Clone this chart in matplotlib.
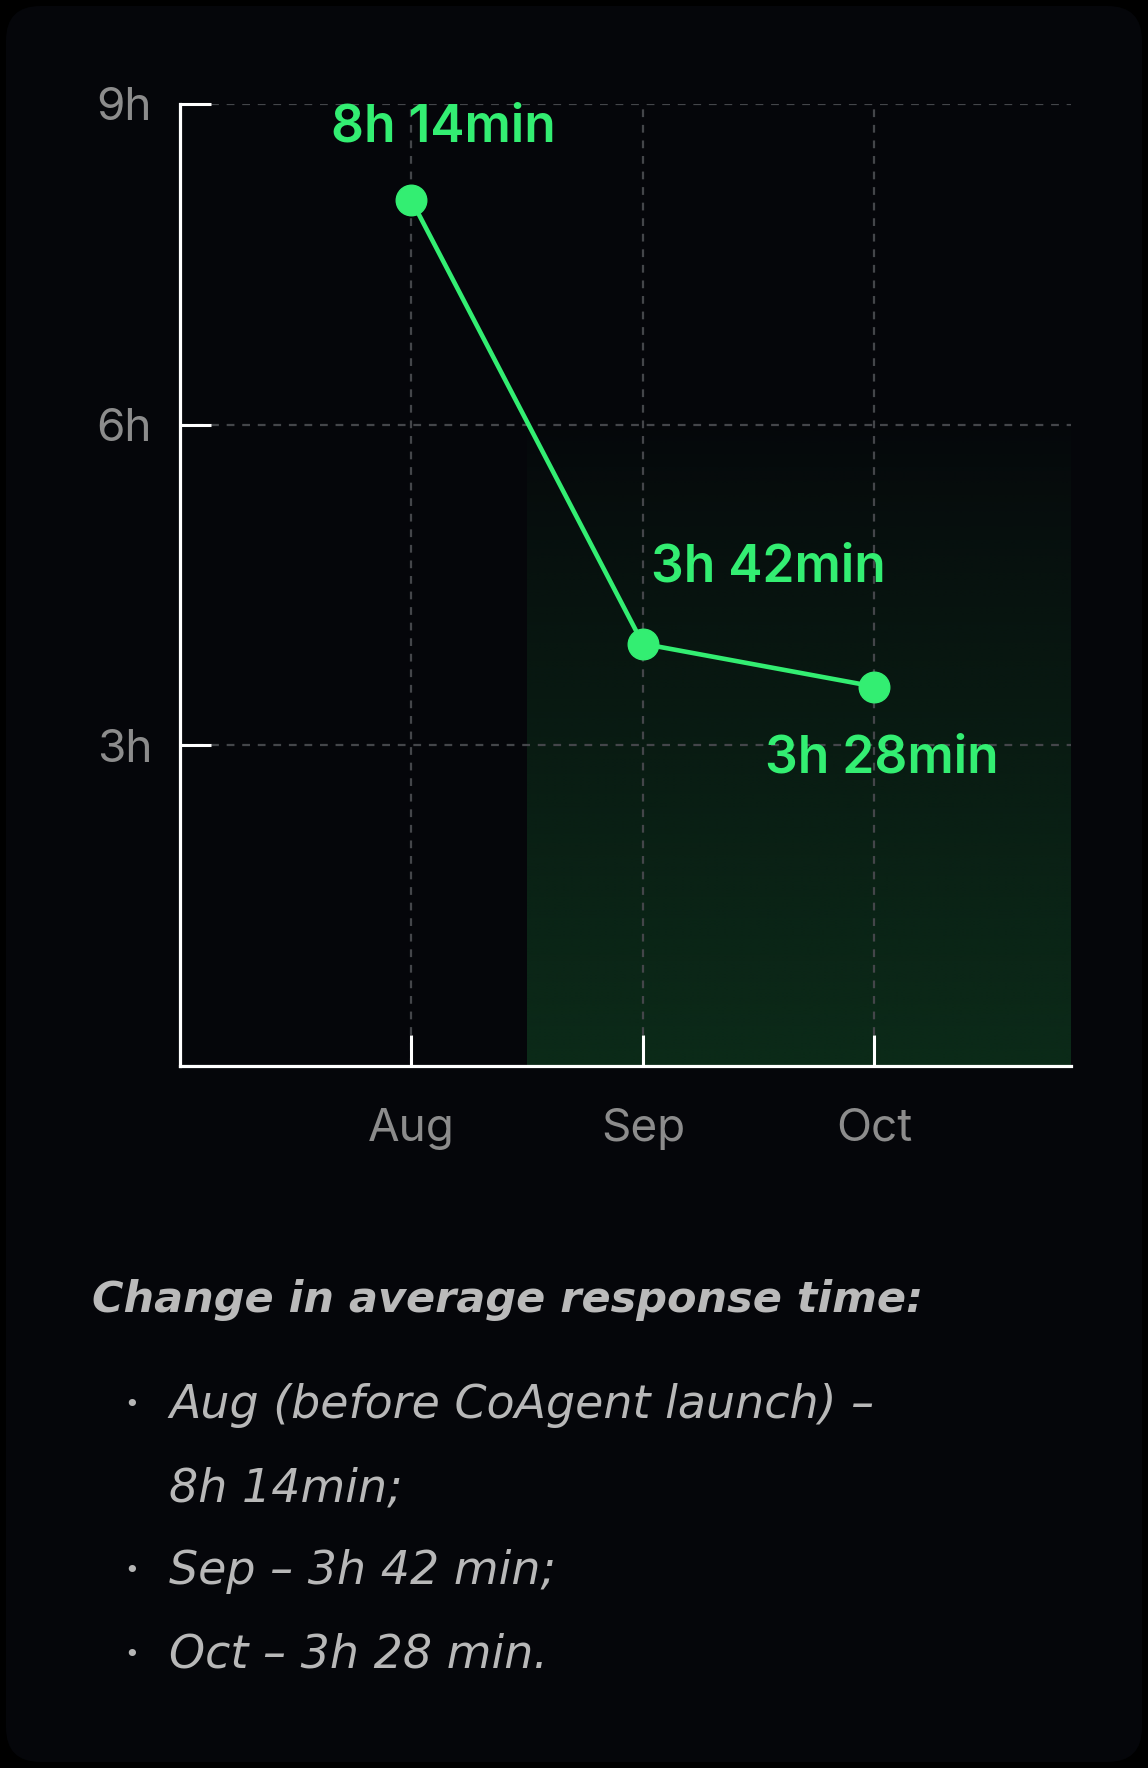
import numpy as np
import matplotlib
matplotlib.use("Agg")
import matplotlib.pyplot as plt
from matplotlib.patches import FancyBboxPatch

months = ["Aug", "Sep", "Oct"]
hours = [8.1, 3.95, 3.55]
point_labels = ["8h 14min", "3h 42min", "3h 28min"]
y_ticks = [3, 6, 9]
y_tick_labels = ["3h", "6h", "9h"]
notes_title = "Change in average response time:"
notes = ["Aug (before CoAgent launch) \u2013", "8h 14min;",
         "Sep \u2013 3h 42 min;", "Oct \u2013 3h 28 min."]
note_bullets = [True, False, True, True]

GREEN = "#33ee72"
GRAY = "#8c8c8c"
NOTE_FONT = ["DejaVu Sans"]
plt.rcParams["font.family"] = ["Inter", "DejaVu Sans"]

W, H = 1148, 1768
fig = plt.figure(figsize=(W / 100, H / 100), dpi=100, facecolor="#000000")

# card
card = FancyBboxPatch((6 / W, 6 / H), 1 - 12 / W, 1 - 12 / H,
                      boxstyle="round,pad=0,rounding_size=0.03",
                      transform=fig.transFigure, facecolor="#05060a",
                      edgecolor="none", zorder=-1, mutation_aspect=W / H)
fig.patches.append(card)

ax = fig.add_axes([180 / W, 702 / H, (1071 - 180) / W, (1664 - 702) / H])
ax.set_facecolor("none")
x = np.arange(len(months))
ax.set_xlim(-1, 2.85)
ax.set_ylim(0, 9)

# green gradient behind the months after launch
grad = np.zeros((256, 1, 4))
t = np.linspace(0, 1, 256)  # 0 at top
grad[:, 0, 0] = 0x0c / 255
grad[:, 0, 1] = 0x2b / 255
grad[:, 0, 2] = 0x19 / 255
grad[:, 0, 3] = np.clip((t - 0.15) / 0.85, 0, 1) ** 0.8
ax.imshow(grad, extent=[0.5, 2.85, 0, 7.2], aspect="auto", origin="upper",
          zorder=0.5, interpolation="bilinear")

ax.grid(True, color="#44464a", linestyle=(0, (3.5, 3.5)), linewidth=1.6,
        zorder=1)
ax.set_axisbelow(True)

ax.plot(x, hours, color=GREEN, linewidth=3.3, zorder=3)
ax.plot(x, hours, "o", color=GREEN, markersize=22, zorder=4)

offsets = [(32, 72, "center"), (8, 76, "left"), (8, -72, "center")]
for xi, yi, lab, (dx, dy, ha) in zip(x, hours, point_labels, offsets):
    ax.annotate(lab, (xi, yi), xytext=(dx, dy), textcoords="offset pixels",
                ha=ha, va="center", color=GREEN, fontsize=37,
                fontweight="semibold", zorder=5)

for s in ["top", "right"]:
    ax.spines[s].set_visible(False)
for s in ["left", "bottom"]:
    ax.spines[s].set_color("white")
    ax.spines[s].set_linewidth(2.3)

ax.set_xticks(x)
ax.set_xticklabels(months)
ax.set_yticks(y_ticks)
ax.set_yticklabels(y_tick_labels)
ax.tick_params(axis="both", direction="in", length=22, width=2.2,
               color="white", labelcolor=GRAY, labelsize=33)
ax.tick_params(axis="x", pad=30)
ax.tick_params(axis="y", pad=20)

# notes under the chart
fig.text(92 / W, 0.2647, notes_title, fontsize=31, fontweight="bold",
         style="italic", color="#bababa", va="center", family=NOTE_FONT)
line_y = [0.2053, 0.158, 0.1114, 0.0639]
for ny, note, bullet in zip(line_y, notes, note_bullets):
    if bullet:
        fig.text(124 / W, ny, "\u2022", fontsize=18, color="#b5b5b5",
                 va="center", family=NOTE_FONT)
    fig.text(169 / W, ny, note, fontsize=33, style="italic",
             color="#b8b8b8", va="center", family=NOTE_FONT)

fig.savefig("out.png", dpi=100, facecolor=fig.get_facecolor())
